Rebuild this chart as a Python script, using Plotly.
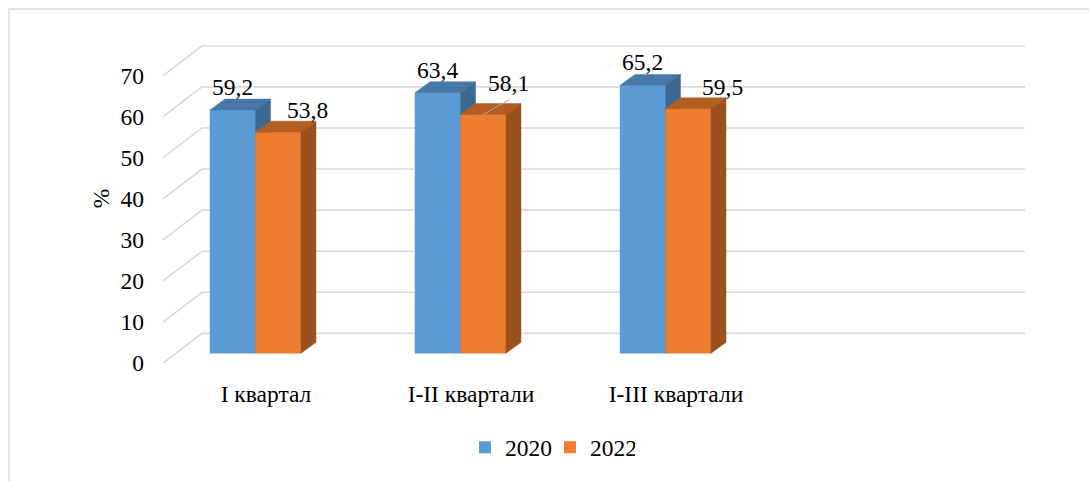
import plotly.graph_objects as go

# ---------------- data ----------------
categories = ["I квартал", "I-II квартали", "I-III квартали"]
series_names = ["2020", "2022"]
values_2020 = [59.2, 63.4, 65.2]
values_2022 = [53.8, 58.1, 59.5]
y_ticks = [0, 10, 20, 30, 40, 50, 60, 70]

# ---------------- style / geometry ----------------
W, H = 1089, 481
L, R, T, B = 150, 1040, 20, 380            # plot area in pixels
PX_PER_CAT = 205.0                          # pixels per category
PX_PER_UNIT = 290.0 / 70.0                  # pixels per value unit
CAT0_PX = 255.5                             # pixel x of first category (front face centre)
ZERO_PX = 366.0                             # pixel y of value 0 on the front plane

def dxu(px):
    return px / PX_PER_CAT

def dyu(px):
    return px / PX_PER_UNIT

x_range = [(L - CAT0_PX) / PX_PER_CAT, (R - CAT0_PX) / PX_PER_CAT]
y_range = [(ZERO_PX - B) / PX_PER_UNIT, (ZERO_PX - T) / PX_PER_UNIT]

FONT = "Liberation Serif, Times New Roman, serif"
FS = 23.5
GRID_COLOR = "#d9d9d9"

colors = {
    "2020": {"front": "#5b9bd5", "top": "#4878a8", "side": "#3d6890"},
    "2022": {"front": "#ed7d31", "top": "#b65e22", "side": "#9a511f"},
}

bar_w = dxu(45.5)
bar_offsets = {"2020": -bar_w, "2022": 0.0}
base = dyu(10)                  # bar front plane sits 10 px behind floor front edge
depth_x, depth_y = dxu(15), dyu(11)   # bar depth
wall_dx, wall_dy = dxu(39), dyu(30)   # floor/wall depth
grid_left = (163 - CAT0_PX) / PX_PER_CAT
grid_right = (1025 - CAT0_PX) / PX_PER_CAT

fig = go.Figure()

# gridlines (left wall diagonal + back wall)
gx, gy = [], []
for v in y_ticks:
    gx += [grid_left, grid_left + wall_dx, grid_right, None]
    gy += [v, v + wall_dy, v + wall_dy, None]
fig.add_trace(go.Scatter(x=gx, y=gy, mode="lines", line=dict(color=GRID_COLOR, width=1.6),
                         hoverinfo="skip", showlegend=False))

series_vals = {"2020": values_2020, "2022": values_2022}

for name in series_names:
    vals = series_vals[name]
    fx, fy, tx, ty, sx, sy = [], [], [], [], [], []
    for i, v in enumerate(vals):
        xl = i + bar_offsets[name]
        xr = xl + bar_w
        b = base
        t = base + v
        fx += [xl, xr, xr, xl, xl, None]
        fy += [b, b, t, t, b, None]
        tx += [xl, xr, xr + depth_x, xl + depth_x, xl, None]
        ty += [t, t, t + depth_y, t + depth_y, t, None]
        sx += [xr, xr + depth_x, xr + depth_x, xr, xr, None]
        sy += [b, b + depth_y, t + depth_y, t, b, None]
    c = colors[name]
    for xs, ys, col in ((fx, fy, c["front"]), (tx, ty, c["top"]), (sx, sy, c["side"])):
        fig.add_trace(go.Scatter(x=xs, y=ys, mode="lines", fill="toself", fillcolor=col,
                                 line=dict(color=col, width=0.5), hoverinfo="skip",
                                 showlegend=False))
    # legend entry
    fig.add_trace(go.Scatter(x=[None], y=[None], mode="markers", name=name,
                             marker=dict(symbol="square", size=12, color=c["front"])))

# data labels
label_dx = {"2020": [0, 0, 0], "2022": [29, 25, 34]}
label_dy = {"2020": [12, 12, 12], "2022": [11, 21, 10.5]}
leader = {"2022": [False, True, False], "2020": [False, False, False]}
for name in series_names:
    vals = series_vals[name]
    for i, v in enumerate(vals):
        xc = i + bar_offsets[name] + bar_w / 2
        fig.add_annotation(x=xc, y=base + v + depth_y, text=f"{v:.1f}".replace(".", ","),
                           showarrow=False, xshift=label_dx[name][i], yshift=label_dy[name][i],
                           yanchor="middle", xanchor="center",
                           font=dict(family=FONT, size=FS, color="#000000"))
        if leader[name][i]:
            fig.add_trace(go.Scatter(x=[xc, xc + dxu(26)], y=[base + v, base + v + dyu(15)],
                                     mode="lines", line=dict(color="#a6a6a6", width=1),
                                     hoverinfo="skip", showlegend=False))

# outer border
def px_to_paper_x(px):
    return (px - L) / (R - L)

def px_to_paper_y(py):
    return (B - py) / (B - T)

fig.add_shape(type="rect", xref="paper", yref="paper",
              x0=px_to_paper_x(9), x1=px_to_paper_x(W + 10),
              y0=px_to_paper_y(H + 10), y1=px_to_paper_y(9),
              line=dict(color=GRID_COLOR, width=1.5), fillcolor="rgba(0,0,0,0)")

fig.update_layout(
    width=W, height=H,
    margin=dict(l=L, r=W - R, t=T, b=H - B),
    paper_bgcolor="white", plot_bgcolor="white",
    font=dict(family=FONT, size=FS, color="#000000"),
    showlegend=True,
    legend=dict(orientation="h", x=px_to_paper_x(550), y=px_to_paper_y(451),
                xanchor="center", yanchor="middle", font=dict(family=FONT, size=FS),
                bgcolor="rgba(0,0,0,0)", entrywidth=40, itemwidth=30),
    xaxis=dict(range=x_range, showgrid=False, zeroline=False, showline=False,
               tickvals=[i + dxu(10.5) for i in range(len(categories))],
               ticktext=categories, ticks="", tickfont=dict(family=FONT, size=FS)),
    yaxis=dict(range=y_range, showgrid=False, zeroline=False, showline=False,
               tickvals=y_ticks, ticktext=[str(v) for v in y_ticks], ticks="",
               ticklabelstandoff=5,
               tickfont=dict(family=FONT, size=FS),
               title=dict(text="%", font=dict(family=FONT, size=FS), standoff=4)),
)

fig.write_html("out.html", config={"displayModeBar": False},
               post_script="document.body.style.margin='0px';")
